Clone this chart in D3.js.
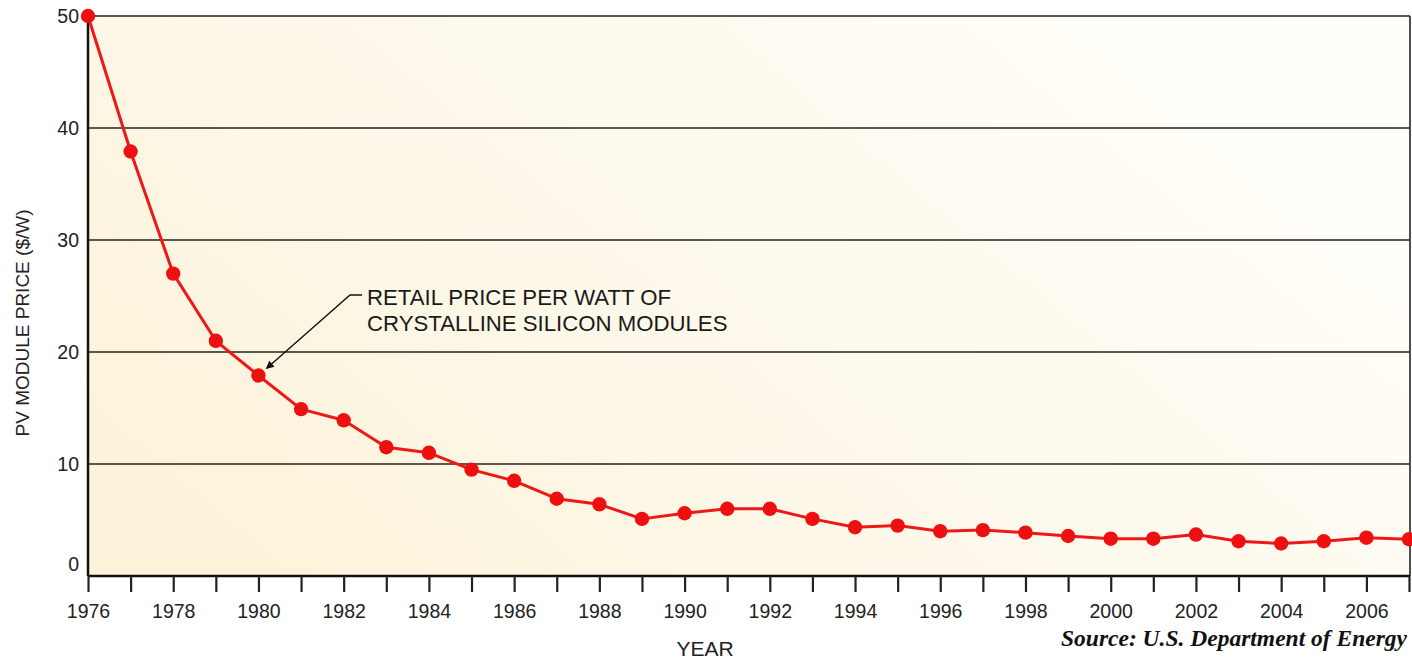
<!DOCTYPE html>
<html>
<head>
<meta charset="utf-8">
<script src="https://cdn.jsdelivr.net/npm/d3@7"></script>
<style>
  html, body { margin: 0; padding: 0; background: #ffffff; }
  svg { display: block; font-family: "Liberation Sans", Arial, Helvetica, sans-serif; }
</style>
</head>
<body>
<svg id="chart" width="1412" height="660"></svg>
<script>
// Retail price per watt of crystalline silicon PV modules, 1976–2007
const years = [1976, 1977, 1978, 1979, 1980, 1981, 1982, 1983, 1984, 1985, 1986,
               1987, 1988, 1989, 1990, 1991, 1992, 1993, 1994, 1995, 1996, 1997,
               1998, 1999, 2000, 2001, 2002, 2003, 2004, 2005, 2006, 2007];
const prices = [50.0, 37.9, 27.0, 21.0, 17.9, 14.9, 13.9, 11.5, 11.0, 9.5, 8.5,
                6.9, 6.4, 5.1, 5.6, 6.0, 6.0, 5.1, 4.35, 4.5, 4.0, 4.1,
                3.87, 3.57, 3.33, 3.33, 3.7, 3.1, 2.9, 3.1, 3.42, 3.28];
const yTicks = [0, 10, 20, 30, 40, 50];
const xLabelYears = [1976, 1978, 1980, 1982, 1984, 1986, 1988, 1990, 1992, 1994, 1996,
                     1998, 2000, 2002, 2004, 2006];
const yTitle = "PV MODULE PRICE ($/W)";
const xTitle = "YEAR";
const annotationLines = ["RETAIL PRICE PER WATT OF", "CRYSTALLINE SILICON MODULES"];
const annotationYear = 1980;
const sourceText = "Source: U.S. Department of Energy";

(function draw() {
  const svg = d3.select("#chart");
  const plotLeft = 88, plotRight = 1409, plotTop = 16, plotBottom = 576;

  const x = d3.scaleLinear().domain([1976, 2007]).range([plotLeft, plotRight]);
  const y = d3.scaleLinear().domain([0, 50]).range([plotBottom, plotTop]);

  // Soft cream background fading to near white towards the upper right
  const defs = svg.append("defs");
  const grad = defs.append("linearGradient")
    .attr("id", "bg").attr("x1", "0").attr("y1", "0.7").attr("x2", "1").attr("y2", "0.2");
  grad.append("stop").attr("offset", "0").attr("stop-color", "#fcf3da");
  grad.append("stop").attr("offset", "0.4").attr("stop-color", "#fdf8ea");
  grad.append("stop").attr("offset", "1").attr("stop-color", "#fffefa");

  defs.append("marker")
    .attr("id", "arrow").attr("viewBox", "0 0 10 10")
    .attr("refX", 9).attr("refY", 5)
    .attr("markerWidth", 11).attr("markerHeight", 8)
    .attr("markerUnits", "userSpaceOnUse")
    .attr("orient", "auto")
    .append("path").attr("d", "M0,0 L10,5 L0,10 Z").attr("fill", "#111");

  svg.append("rect")
    .attr("x", plotLeft).attr("y", plotTop)
    .attr("width", plotRight - plotLeft).attr("height", plotBottom - plotTop)
    .attr("fill", "url(#bg)");

  // Horizontal grid lines
  svg.append("g")
    .selectAll("line")
    .data(yTicks.filter(d => d > 0))
    .join("line")
    .attr("x1", plotLeft).attr("x2", plotRight + 1)
    .attr("y1", d => y(d)).attr("y2", d => y(d))
    .attr("stroke", "#222").attr("stroke-width", 1.6);

  // Right border of the plot
  svg.append("line")
    .attr("x1", plotRight + 1).attr("x2", plotRight + 1)
    .attr("y1", plotTop).attr("y2", plotBottom)
    .attr("stroke", "#222").attr("stroke-width", 1.6);

  // Y axis
  const yAxis = d3.axisLeft(y).tickValues(yTicks).tickSize(0).tickPadding(9);
  const gy = svg.append("g").attr("transform", `translate(${plotLeft},0)`).call(yAxis);
  gy.select(".domain").attr("stroke", "#111").attr("stroke-width", 2.5)
    .attr("d", `M0,${plotTop}V${plotBottom}`);
  gy.selectAll("text")
    .attr("font-size", 19.5).attr("fill", "#222")
    .attr("dy", d => d === 0 ? "-0.3em" : "0.34em");

  // X axis: a tick per year, labels every second year
  const xAxis = d3.axisBottom(x)
    .tickValues(years)
    .tickSize(16)
    .tickPadding(12)
    .tickFormat(d => xLabelYears.includes(d) ? String(d) : "");
  const gx = svg.append("g").attr("transform", `translate(0,${plotBottom})`).call(xAxis);
  gx.select(".domain").attr("stroke", "#111").attr("stroke-width", 2.5)
    .attr("d", `M${plotLeft},0H${plotRight + 1}`);
  gx.selectAll(".tick line").attr("stroke", "#222").attr("stroke-width", 2.2);
  gx.selectAll("text").attr("font-size", 19.5).attr("fill", "#222");

  // Axis titles
  svg.append("text")
    .attr("transform", `translate(29,${(plotTop + plotBottom) / 2 + 27}) rotate(-90)`)
    .attr("text-anchor", "middle")
    .attr("font-size", 19).attr("fill", "#222")
    .text(yTitle);

  svg.append("text")
    .attr("x", 705).attr("y", 656)
    .attr("text-anchor", "middle")
    .attr("font-size", 21).attr("fill", "#222")
    .text(xTitle);

  svg.append("text")
    .attr("x", 1407).attr("y", 646)
    .attr("text-anchor", "end")
    .attr("font-family", "'Liberation Serif', 'Times New Roman', serif")
    .attr("font-style", "italic").attr("font-weight", "bold")
    .attr("font-size", 23.5).attr("fill", "#111")
    .text(sourceText);

  // Price line and markers
  const data = years.map((yr, i) => ({ year: yr, price: prices[i] }));
  const line = d3.line().x(d => x(d.year)).y(d => y(d.price));

  svg.append("path")
    .datum(data)
    .attr("d", line)
    .attr("fill", "none")
    .attr("stroke", "#ee1818")
    .attr("stroke-width", 3)
    .attr("stroke-linejoin", "round");

  svg.append("g")
    .selectAll("circle")
    .data(data)
    .join("circle")
    .attr("cx", d => x(d.year)).attr("cy", d => y(d.price))
    .attr("r", 7.2)
    .attr("fill", "#ee1010");

  // Annotation with leader arrow
  const target = data.find(d => d.year === annotationYear);
  const tx = x(target.year) + 8, ty = y(target.price) - 7;
  const elbowX = 350, elbowY = 295;
  svg.append("path")
    .attr("d", `M362,${elbowY}H${elbowX}L${tx},${ty}`)
    .attr("fill", "none").attr("stroke", "#111").attr("stroke-width", 1.4)
    .attr("marker-end", "url(#arrow)");

  svg.append("g")
    .selectAll("text")
    .data(annotationLines)
    .join("text")
    .attr("x", 367).attr("y", (d, i) => 305 + i * 26)
    .attr("font-size", 22.2).attr("fill", "#1a1a1a")
    .text(d => d);
})();
</script>
</body>
</html>
